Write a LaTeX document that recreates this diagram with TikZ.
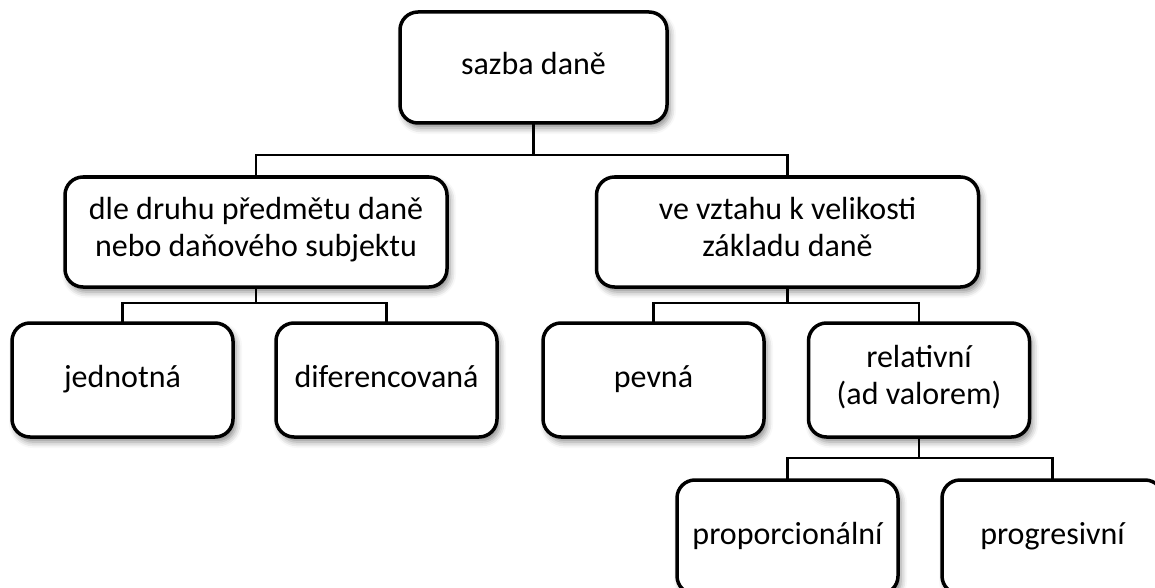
\documentclass[tikz,border=0pt]{standalone}
\usepackage{fontspec}
\setmainfont{Carlito}
\usetikzlibrary{shadows.blur}
\tikzset{
	box/.style={draw, fill=white, line width=3.5pt, rounded corners=18pt, align=center,
		font=\fontsize{32}{37}\selectfont, inner sep=0pt,
		execute at begin node=\strut, execute at end node=\strut,
		blur shadow={shadow xshift=3pt, shadow yshift=-5pt, shadow blur radius=6pt, shadow opacity=45}},
	conn/.style={line width=2.5pt, line cap=rect}
}
\begin{document}
\begin{tikzpicture}[x=1pt, y=-1pt, line join=miter]
	\useasboundingbox (0, 0) rectangle (1155, 588);
	
	% Kořen
	\node[box, minimum width=267, minimum height=111] (sazba) at (533.5, 67.5) {sazba daně};
	
	% Druhá úroveň
	\node[box, minimum width=382, minimum height=110] (druh) at (256, 232) {dle druhu předmětu daně\\nebo daňového subjektu};
	\node[box, minimum width=382, minimum height=110] (vztah) at (787.5, 232) {ve vztahu k velikosti\\základu daně};
	
	% Třetí úroveň
	\node[box, minimum width=221, minimum height=114] (jednotna) at (122.5, 380) {jednotná};
	\node[box, minimum width=221, minimum height=114] (difer) at (386.5, 380) {diferencovaná};
	\node[box, minimum width=221, minimum height=114] (pevna) at (653.5, 380) {pevná};
	\node[box, minimum width=221, minimum height=114] (relat) at (919, 380) {relativní\\(ad valorem)};
	
	% Čtvrtá úroveň
	\node[box, minimum width=221, minimum height=114] (propor) at (787.5, 537) {proporcionální};
	\node[box, minimum width=221, minimum height=114] (progres) at (1052.5, 537) {progresivní};
	
	% Spojnice
	\coordinate (r1) at (533.5, 155);
	\coordinate (r2) at (256, 303);
	\coordinate (r3) at (787.5, 303);
	\coordinate (r4) at (919, 458);
	\draw[conn] (sazba.south) -- (r1);
	\draw[conn] (r1) -| (druh.north);
	\draw[conn] (r1) -| (vztah.north);
	\draw[conn] (druh.south) -- (r2);
	\draw[conn] (r2) -| (jednotna.north);
	\draw[conn] (r2) -| (difer.north);
	\draw[conn] (vztah.south) -- (r3);
	\draw[conn] (r3) -| (pevna.north);
	\draw[conn] (r3) -| (relat.north);
	\draw[conn] (relat.south) -- (r4);
	\draw[conn] (r4) -| (propor.north);
	\draw[conn] (r4) -| (progres.north);
\end{tikzpicture}
\end{document}
